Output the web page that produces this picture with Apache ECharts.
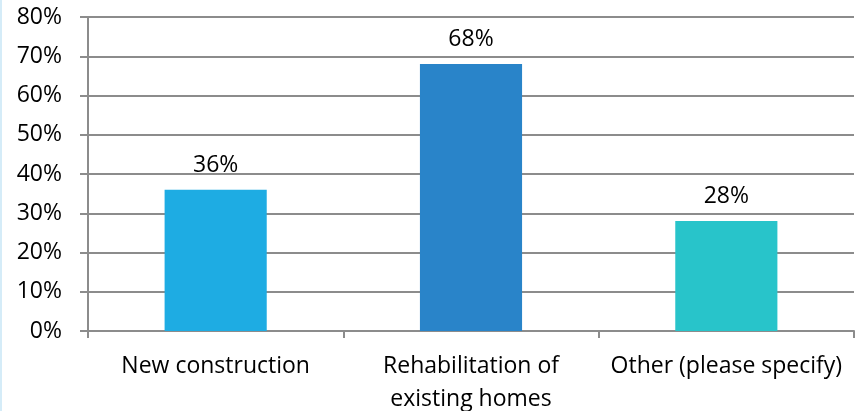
<!DOCTYPE html>
<html><head><meta charset="utf-8">
<script src="https://cdn.jsdelivr.net/npm/echarts@6/dist/echarts.min.js"></script>
<style>html,body{margin:0;padding:0;background:#fff;}#c{width:865px;height:411px;border-left:2px solid #d5ecf8;box-sizing:border-box;}</style>
</head><body><div id="c"></div>
<script>
const categories = ['New construction', 'Rehabilitation of\nexisting homes', 'Other (please specify)'];
const values = [36, 68, 28];
const colors = ['#1EACE3', '#2984C9', '#28C4CA'];
const yTicks = [0, 10, 20, 30, 40, 50, 60, 70, 80];

const chart = echarts.init(document.getElementById('c'));
const font = '"Open Sans", sans-serif';
chart.setOption({
  animation: false,
  grid: {left: 86, right: 11, top: 17, bottom: 80, containLabel: false, outerBoundsMode: 'none'},
  xAxis: {
    type: 'category', data: categories,
    axisLine: {lineStyle: {color: '#8c8c8c', width: 2}},
    axisTick: {show: true, length: 7, lineStyle: {color: '#8c8c8c', width: 2}},
    axisLabel: {color: '#000', fontFamily: font, fontSize: 23, margin: 19, lineHeight: 33, interval: 0, hideOverlap: false}
  },
  yAxis: {
    type: 'value', min: 0, max: 80, interval: 10,
    axisLine: {show: true, lineStyle: {color: '#8c8c8c', width: 2}},
    axisTick: {show: true, length: 8, lineStyle: {color: '#8c8c8c', width: 2}},
    splitLine: {lineStyle: {color: '#8c8c8c', width: 2}},
    axisLabel: {color: '#000', fontFamily: font, fontSize: 23, margin: 26, formatter: v => v + '%'}
  },
  series: [{
    type: 'bar', barWidth: '40%',
    data: values.map((v, i) => ({value: v, itemStyle: {color: colors[i]}})),
    label: {show: true, position: 'top', distance: 13, color: '#000', fontFamily: font, fontSize: 23, formatter: p => p.value + '%'}
  }]
});
</script></body></html>
